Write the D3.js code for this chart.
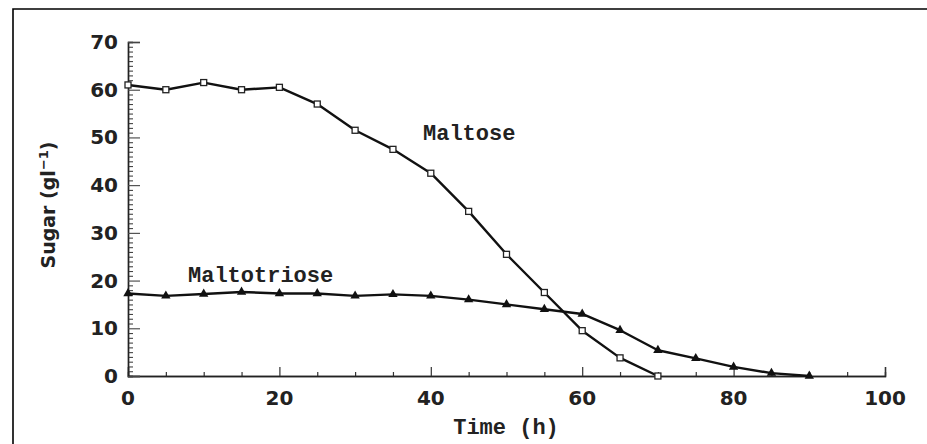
<!DOCTYPE html>
<html>
<head>
<meta charset="utf-8">
<script src="https://cdn.jsdelivr.net/npm/d3@7"></script>
<style>
  html, body { margin: 0; padding: 0; background: #fff; }
  svg { display: block; }
</style>
</head>
<body>
<script>
// ---- data ----
const time = [0, 5, 10, 15, 20, 25, 30, 35, 40, 45, 50, 55, 60, 65, 70, 75, 80, 85, 90];
const maltose = [61, 60, 61.5, 60, 60.5, 57, 51.5, 47.5, 42.5, 34.5, 25.5, 17.5, 9.5, 3.8, 0];
const maltotriose = [17.3, 16.8, 17.2, 17.6, 17.3, 17.3, 16.8, 17.1, 16.8, 16, 15, 14, 13, 9.6, 5.4, 3.7, 1.9, 0.6, 0];
const xTicks = [0, 20, 40, 60, 80, 100];
const yTicks = [0, 10, 20, 30, 40, 50, 60, 70];
const xLabel = "Time (h)";
const yLabelMain = "Sugar (gl";
const yLabelSup = "−1";
const labelMaltose = "Maltose";
const labelMaltotriose = "Maltotriose";

const W = 927, H = 444;
const svg = d3.select("body").append("svg").attr("width", W).attr("height", H);
svg.append("rect").attr("width", W).attr("height", H).attr("fill", "#fff");

// frame (only top and left visible)
svg.append("path").attr("d", `M13,${H} L13,9 L${W},9`).attr("fill", "none")
  .attr("stroke", "#000").attr("stroke-width", 1.6);

const x = d3.scaleLinear().domain([0, 100]).range([128, 885]);
const y = d3.scaleLinear().domain([0, 70]).range([376, 42]);

const monoFont = "'Liberation Mono', 'Courier New', monospace";
const sansFont = "'DejaVu Sans', Arial, sans-serif";

// axes
const xAxisMajor = d3.axisTop(x).tickValues(xTicks).tickSize(9).tickFormat("");
const xAxisMinor = d3.axisTop(x).tickValues(d3.range(0, 101, 5).filter(v => v % 20 !== 0)).tickSize(4).tickFormat("");
const gx = svg.append("g").attr("transform", `translate(0,${y(0)})`);
gx.append("g").call(xAxisMinor);
gx.append("g").call(xAxisMajor);
gx.selectAll("path.domain").attr("stroke", "#222").attr("stroke-width", 1.4);
gx.selectAll(".tick line").attr("stroke", "#333").attr("stroke-width", 1.2);

const yAxisMajor = d3.axisRight(y).tickValues(yTicks).tickSize(12).tickFormat("");
const yAxisMinor = d3.axisRight(y).tickValues(d3.range(0, 71, 1).filter(v => v % 10 !== 0)).tickSize(5).tickFormat("");
const gy = svg.append("g").attr("transform", `translate(${x(0)},0)`);
gy.append("g").call(yAxisMinor);
gy.append("g").call(yAxisMajor);
gy.selectAll("path.domain").attr("stroke", "#222").attr("stroke-width", 1.4);
gy.selectAll(".tick line").attr("stroke", "#444").attr("stroke-width", 1.1);

// tick labels
svg.append("g").selectAll("text").data(xTicks).join("text")
  .attr("x", d => x(d)).attr("y", 405)
  .attr("text-anchor", "middle")
  .attr("font-family", sansFont).attr("font-weight", "bold").attr("font-size", 20)
  .attr("fill", "#222")
  .text(d => d);

svg.append("g").selectAll("text").data(yTicks).join("text")
  .attr("x", 118).attr("y", d => y(d) + 7)
  .attr("text-anchor", "end")
  .attr("font-family", sansFont).attr("font-weight", "bold").attr("font-size", 20)
  .attr("fill", "#222")
  .text(d => d);

// axis titles
svg.append("text").attr("x", 506).attr("y", 434).attr("text-anchor", "middle")
  .attr("font-family", monoFont).attr("font-weight", "bold").attr("font-size", 22)
  .attr("fill", "#222").text(xLabel);

const yt = svg.append("text").attr("transform", "translate(55,205) rotate(-90)")
  .attr("text-anchor", "middle")
  .attr("font-family", sansFont).attr("font-weight", "bold").attr("font-size", 19)
  .attr("fill", "#222");
yt.append("tspan").text(yLabelMain);
yt.append("tspan").attr("dy", -7).attr("font-size", 13).text(yLabelSup);
yt.append("tspan").attr("dy", 7).text(")");

// lines
const line = d3.line().x(d => x(d[0])).y(d => y(d[1]));
const mData = maltose.map((v, i) => [time[i], v]);
const tData = maltotriose.map((v, i) => [time[i], v]);

svg.append("path").datum(tData).attr("d", line).attr("fill", "none")
  .attr("stroke", "#111").attr("stroke-width", 2.4).attr("stroke-linejoin", "round");
svg.append("path").datum(mData).attr("d", line).attr("fill", "none")
  .attr("stroke", "#111").attr("stroke-width", 2.4).attr("stroke-linejoin", "round");

// markers
const tri = d3.symbol().type(d3.symbolTriangle).size(38);
svg.append("g").selectAll("path").data(tData).join("path")
  .attr("transform", d => `translate(${x(d[0])},${y(d[1])})`)
  .attr("d", tri).attr("fill", "#111");

svg.append("g").selectAll("rect").data(mData).join("rect")
  .attr("x", d => x(d[0]) - 3).attr("y", d => y(d[1]) - 3)
  .attr("width", 6).attr("height", 6)
  .attr("fill", "#fff").attr("stroke", "#222").attr("stroke-width", 1.3);

// series labels
svg.append("text").attr("x", 423).attr("y", 140)
  .attr("font-family", monoFont).attr("font-weight", "bold").attr("font-size", 22)
  .attr("fill", "#222").text(labelMaltose);
svg.append("text").attr("x", 188).attr("y", 282)
  .attr("font-family", monoFont).attr("font-weight", "bold").attr("font-size", 22)
  .attr("fill", "#222").text(labelMaltotriose);
</script>
</body>
</html>
